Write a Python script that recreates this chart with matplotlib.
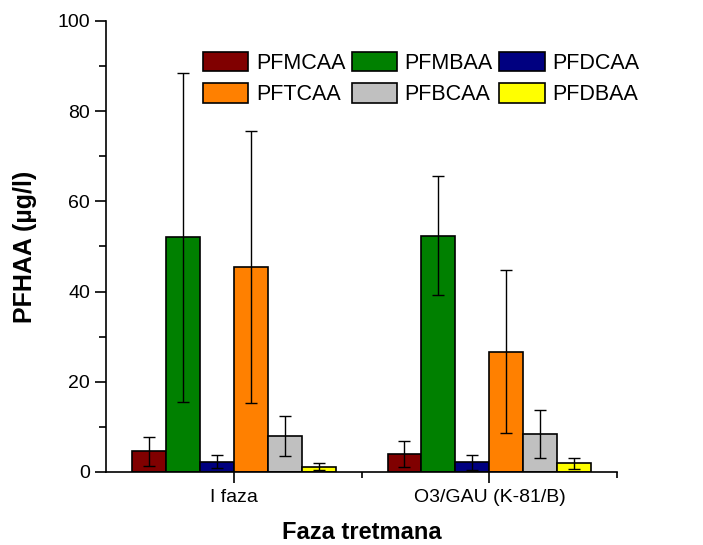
import matplotlib
matplotlib.use("Agg")
import matplotlib.pyplot as plt
import numpy as np
from matplotlib.ticker import MultipleLocator, FixedLocator

plt.rcParams['font.family'] = ['Liberation Sans', 'DejaVu Sans']

phases = ["I faza", "O3/GAU (K-81/B)"]
series = ["PFMCAA", "PFMBAA", "PFDCAA", "PFTCAA", "PFBCAA", "PFDBAA"]
colors = ["#800000", "#008000", "#000080", "#FF8000", "#C0C0C0", "#FFFF00"]

# mean concentrations (µg/l) per phase
pfmcaa = [4.6, 3.9]
pfmbaa = [52.0, 52.4]
pfdcaa = [2.3, 2.1]
pftcaa = [45.5, 26.7]
pfbcaa = [8.0, 8.5]
pfdbaa = [1.2, 1.9]

# standard deviations
pfmcaa_sd = [3.2, 2.9]
pfmbaa_sd = [36.5, 13.2]
pfdcaa_sd = [1.5, 1.7]
pftcaa_sd = [30.2, 18.0]
pfbcaa_sd = [4.4, 5.3]
pfdbaa_sd = [0.7, 1.3]

means = [pfmcaa, pfmbaa, pfdcaa, pftcaa, pfbcaa, pfdbaa]
sds = [pfmcaa_sd, pfmbaa_sd, pfdcaa_sd, pftcaa_sd, pfbcaa_sd, pfdbaa_sd]

fig = plt.figure(figsize=(7.03, 5.45), dpi=100)
ax = fig.add_axes([0.151, 0.134, 0.727, 0.8275])

x = np.arange(1, len(phases) + 1)
w = 0.133
handles = {}
for i, (name, m, s, c) in enumerate(zip(series, means, sds, colors)):
    pos = x + (i - 2.5) * w
    b = ax.bar(pos, m, width=w, color=c, edgecolor="black", linewidth=1.2,
               label=name, zorder=2)
    ax.errorbar(pos, m, yerr=s, fmt="none", ecolor="black", elinewidth=1.0,
                capsize=4.5, capthick=1.0, zorder=3)
    handles[name] = b

ax.set_xlim(0.5, 2.5)
ax.set_ylim(0, 100)
ax.set_xticks(x)
ax.set_xticklabels(phases, fontsize=14)
ax.xaxis.set_minor_locator(FixedLocator([1.5, 2.5]))
ax.yaxis.set_major_locator(MultipleLocator(20))
ax.yaxis.set_minor_locator(MultipleLocator(10))
ax.tick_params(axis="y", which="major", direction="out", length=8, width=1.2, labelsize=14)
ax.tick_params(axis="y", which="minor", direction="out", length=5, width=1.2)
ax.tick_params(axis="x", which="major", direction="out", length=8, width=1.2, pad=4)
ax.tick_params(axis="x", which="minor", direction="out", length=4, width=1.2)

for sp in ["top", "right"]:
    ax.spines[sp].set_visible(False)
for sp in ["left", "bottom"]:
    ax.spines[sp].set_linewidth(1.2)

ax.set_ylabel("PFHAA (µg/l)", fontsize=18, fontweight="bold", labelpad=15)
ax.set_xlabel("Faza tretmana", fontsize=17, fontweight="bold", labelpad=11)

order = ["PFMCAA", "PFTCAA", "PFMBAA", "PFBCAA", "PFDCAA", "PFDBAA"]
leg = ax.legend([handles[n] for n in order], order, ncol=3, fontsize=15.5,
                frameon=False, loc="upper left", bbox_to_anchor=(0.19, 0.932),
                handlelength=2.1, handleheight=1.0, handletextpad=0.35,
                columnspacing=0.3, labelspacing=0.45, borderaxespad=0,
                borderpad=0)
for p in leg.get_patches():
    p.set_linewidth(1.2)

fig.savefig("out.png", dpi=100)
